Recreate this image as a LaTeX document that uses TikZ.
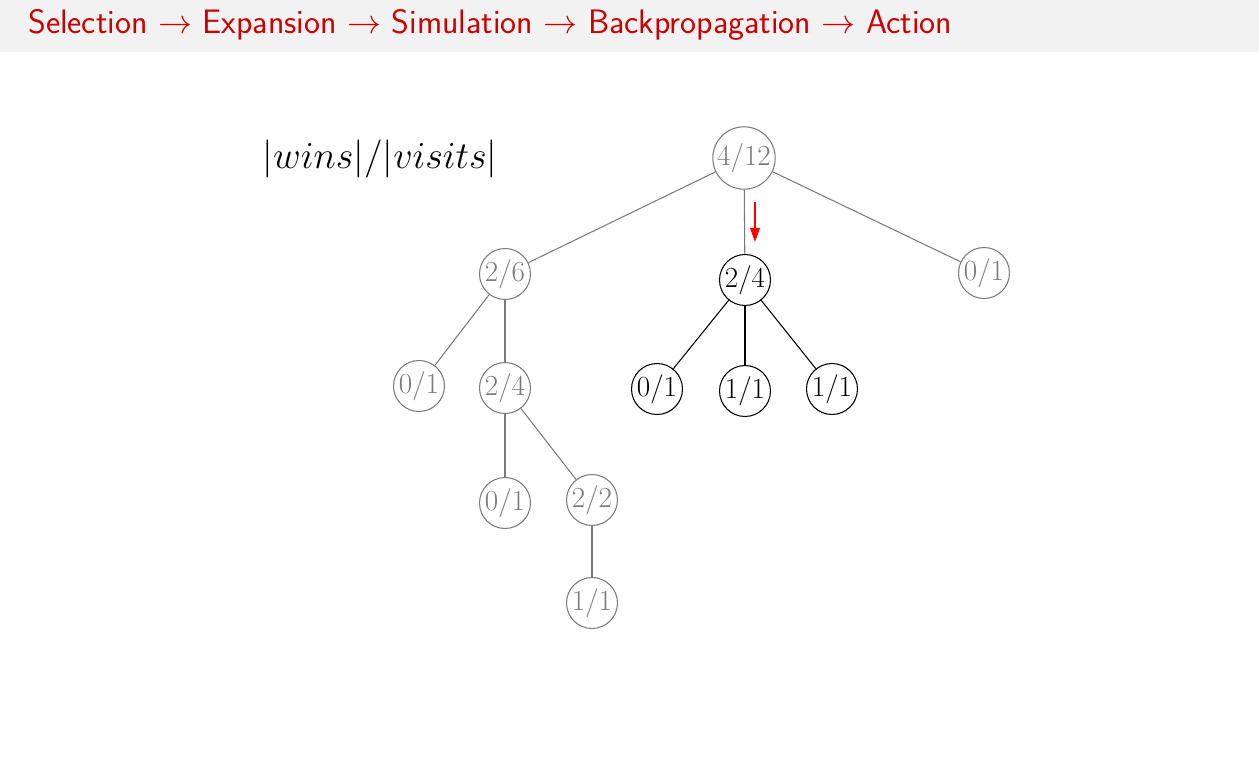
\documentclass[tikz,border=0pt]{standalone}
\usepackage{fix-cm}
\usepackage{xcolor}
\usepackage{tikz}
\usetikzlibrary{arrows.meta}
\definecolor{slidered}{HTML}{CC0000}
\definecolor{barfill}{HTML}{F2F2F2}
\definecolor{dim}{HTML}{7A7A7A}
\tikzset{
  tnode/.style={circle, draw=dim, text=dim, line width=0.6pt, inner sep=0.3pt,
                font=\fontsize{16.6}{19}\selectfont},
  hotnode/.style={tnode, draw=black, text=black},
  edge/.style={draw=dim, line width=0.6pt},
  hotedge/.style={draw=black, line width=0.6pt},
  pick/.style={-{Triangle[length=8pt,width=5.5pt]}, draw=red, fill=red, line width=0.8pt},
}

\begin{document}
\begin{tikzpicture}[x=0.02cm,y=-0.02cm]
\useasboundingbox (0,0) rectangle (1259,764);
\fill[barfill] (0,0) rectangle (1259,52);
\node[anchor=base west, inner sep=0pt, text=slidered, font=\sffamily\fontsize{19.3}{23}\selectfont] (title) at (28,33)
  {Selection $\rightarrow$ Expansion $\rightarrow$ Simulation $\rightarrow$ Backpropagation $\rightarrow$ Action};
\node[font=\fontsize{21.7}{26}\selectfont] (legend) at (380,159) {$|wins|/|visits|$};
% tree
\node[tnode]   (root) at (744,158) {4/12};
\node[tnode]   (a)    at (505,274) {2/6};
\node[hotnode] (b)    at (745,280) {2/4};
\node[tnode]   (c)    at (984,273) {0/1};
\node[tnode]   (a1)   at (419,386) {0/1};
\node[tnode]   (a2)   at (505,388) {2/4};
\node[hotnode] (b1)   at (657,389) {0/1};
\node[hotnode] (b2)   at (745,391) {1/1};
\node[hotnode] (b3)   at (832,389) {1/1};
\node[tnode]   (a21)  at (505,503) {0/1};
\node[tnode]   (a22)  at (592,500) {2/2};
\node[tnode]   (a221) at (592,603) {1/1};
\draw[edge](root)--(a); \draw[edge](root)--(b); \draw[edge](root)--(c);
\draw[edge](a)--(a1); \draw[edge](a)--(a2);
\draw[edge](a2)--(a21); \draw[edge](a2)--(a22); \draw[edge](a22)--(a221);
\draw[hotedge](b)--(b1); \draw[hotedge](b)--(b2); \draw[hotedge](b)--(b3);
\coordinate (pickA) at (755,202);
\coordinate (pickB) at (755,242);
\draw[pick] (pickA) -- (pickB);
\end{tikzpicture}
\end{document}
